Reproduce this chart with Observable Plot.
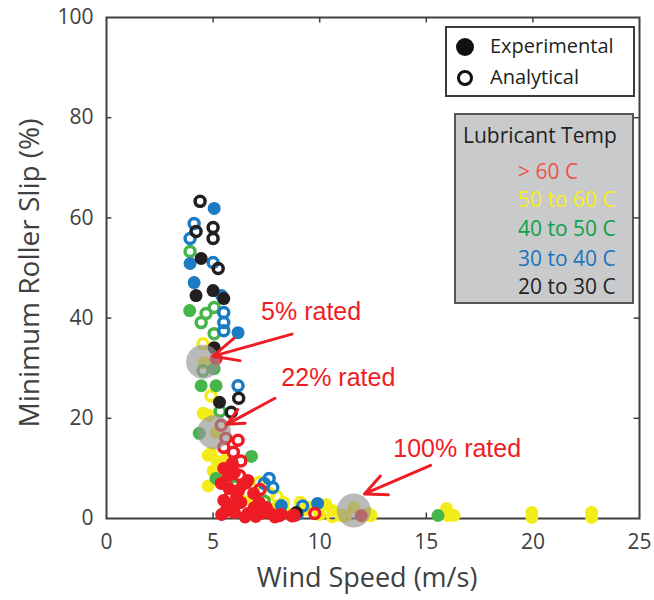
<!DOCTYPE html>
<html><head><meta charset="utf-8">
<script src="https://cdn.jsdelivr.net/npm/d3@7"></script>
<script src="https://cdn.jsdelivr.net/npm/@observablehq/plot@0.6"></script>
<style>
body{margin:0;background:#fff;}
#wrap{position:relative;width:654px;height:600px;font-family:"Open Sans",sans-serif;}
.leg1{position:absolute;left:445px;top:26px;width:190px;height:71px;border:2px solid #3a3a3a;background:#fff;box-sizing:border-box;}
.leg1 .row{position:absolute;left:0;height:30px;line-height:30px;font-size:20px;color:#231f20;}
.leg1 svg{position:absolute;left:6px;top:5px;}
.leg1 span{position:absolute;left:43px;white-space:nowrap;}
.leg2{position:absolute;left:454px;top:113px;width:180px;height:191px;border:2px solid #555;background:#c9cacb;box-sizing:border-box;font-size:20px;}
.leg2 div{position:absolute;white-space:nowrap;line-height:26px;}
</style></head>
<body><div id="wrap"></div>
<script>
const xTicks = [0, 5, 10, 15, 20, 25];
const yTicks = [0, 20, 40, 60, 80, 100];
const tempLabels = ["> 60 C", "50 to 60 C", "40 to 50 C", "30 to 40 C", "20 to 30 C"];
const tempColors = ["#ee1c24", "#f4ec1a", "#45b649", "#1b7cc4", "#231f20"];
const legendTextColors = ["#ef5246", "#f7ee1c", "#0ea04b", "#1c75bc", "#231f20"];

// [wind speed m/s, minimum roller slip %]
const expRed = [[5.5,10],[6.0,9.2],[5.38,7],[5.75,6],[6.63,7.6],[6.9,5],[6.3,3.2],[5.85,2.6],[6.0,1.2],[6.63,1],[7.25,1],[7.7,1],[6.93,2.2],[5.5,3.6],[6.2,5.6],[7.16,3.2],[5.7,8.5],[6.4,6.8],[7.0,0.4],[8.2,0.8],[6.5,0.3],[5.6,1.5],[5.14,31.9],[11.95,0.6],[7.5,2.2],[8.7,0.5],[5.9,11],[5.4,0.8],[6.1,4.2],[7.9,0.3]];
const anaRed = [[5.38,18.6],[5.6,16.0],[6.17,15.6],[5.5,14.2],[5.95,13.2],[5.94,9.0],[6.24,8.6],[6.55,7.2],[8.1,0.6],[8.8,0.6],[9.77,1.0],[6.3,11.5],[5.8,4.5],[7.2,5.8]];
const expYellow = [[4.58,31.1],[4.53,21.0],[5.14,17.2],[4.77,12.6],[4.9,13.0],[5.2,11.4],[4.77,6.5],[5.0,9.5],[5.6,11.8],[6.8,3.5],[7.3,1.8],[7.9,2.0],[8.4,1.2],[9.0,1.5],[9.5,2.2],[10.0,0.8],[10.6,1.6],[11.0,0.6],[11.6,2.2],[12.3,1.0],[12.0,0.4],[15.95,2.0],[16.0,0.6],[16.3,0.6],[19.95,1.2],[19.95,0.2],[22.75,1.2],[22.75,0.2],[10.3,2.8],[4.8,20.6]];
const anaYellow = [[4.53,34.9],[4.9,24.5],[7.16,7.2],[7.64,5.0],[8.3,3.2],[9.1,3.2],[6.6,5.2],[8.0,4.4],[9.3,1.8],[10.6,0.4],[11.2,0.5],[12.4,0.6]];
const expGreen = [[3.9,41.5],[5.05,29.9],[4.44,26.5],[5.14,26.5],[4.35,17.0],[6.8,12.4],[5.14,8.0],[15.55,0.6],[8.2,1.0]];
const anaGreen = [[3.92,53.3],[5.05,42.1],[4.67,40.9],[4.44,39.1],[5.05,36.9],[4.53,29.5],[5.33,21.4],[7.4,3.5],[6.0,6.5]];
const expBlue = [[5.05,61.9],[3.92,50.9],[4.11,47.1],[5.4,44.5],[6.17,37.1],[8.95,0.8],[9.9,3.0],[8.2,2.6]];
const anaBlue = [[4.11,58.9],[3.92,55.9],[5.0,51.1],[5.5,41.1],[5.5,39.1],[5.5,37.5],[6.17,26.5],[7.63,8.0],[7.8,6.2],[7.4,7.0],[9.2,2.5]];
const expBlack = [[4.44,51.9],[4.2,44.5],[5.0,45.5],[5.5,43.9],[5.05,34.1],[5.3,23.2],[6.2,3.2],[8.9,1.2]];
const anaBlack = [[4.39,63.3],[5.0,58.1],[4.2,57.3],[5.0,55.9],[5.24,49.9],[6.2,24.0],[5.85,21.2]];

const ratedLabels = ["5% rated", "22% rated", "100% rated"];
const ratedPoints = [[4.53,31.3],[5.05,17.2],[11.6,1.6]];
const labelPos = [[7.25,41.2],[8.2,28.1],[13.45,13.8]];
const arrowFrom = [[8.7,36.8],[7.9,24.0],[15.2,10.6]];
const arrowTo = [[5.0,32.4],[5.65,18.8],[12.1,4.9]];

const filled = (d, c) => Plot.dot(d, {x: p => p[0], y: p => p[1], r: 6.5, fill: c, stroke: "none"});
const ring = (d, c) => Plot.dot(d, {x: p => p[0], y: p => p[1], r: 5, fill: "none", stroke: c, strokeWidth: 3.5});
const axisColor = "#3f3f3f";

const chart = Plot.plot({
  width: 654, height: 600,
  marginLeft: 106, marginRight: 15, marginTop: 17, marginBottom: 82,
  x: {domain: [0, 25]},
  y: {domain: [0, 100]},
  style: {fontFamily: "'Open Sans', sans-serif", color: axisColor, background: "white", overflow: "visible"},
  marks: [
    Plot.axisX({ticks: xTicks, tickSize: 0, tickPadding: 16, label: null, fontSize: 21, fill: "#404040"}),
    Plot.axisY({ticks: yTicks, tickSize: 0, tickPadding: 13, label: null, fontSize: 21, fill: "#404040"}),
    Plot.ruleX(xTicks.slice(1, -1), {y1: 0, y2: 1.1, stroke: axisColor, strokeWidth: 1.5}),
    Plot.ruleX(xTicks.slice(1, -1), {y1: 98.9, y2: 100, stroke: axisColor, strokeWidth: 1.5}),
    Plot.ruleY(yTicks.slice(1, -1), {x1: 0, x2: 0.25, stroke: axisColor, strokeWidth: 1.5}),
    Plot.ruleY(yTicks.slice(1, -1), {x1: 24.75, x2: 25, stroke: axisColor, strokeWidth: 1.5}),
    Plot.frame({stroke: axisColor, strokeWidth: 2}),
    Plot.text(["Wind Speed (m/s)"], {frameAnchor: "bottom", dy: 68, dx: -6, fontSize: 27, fill: "#404040"}),
    Plot.text(["Minimum Roller Slip (%)"], {frameAnchor: "left", textAnchor: "middle", rotate: -90, dx: -76, dy: 5, fontSize: 28, fill: "#404040"}),
    filled(expYellow, tempColors[1]), ring(anaYellow, tempColors[1]),
    filled(expGreen, tempColors[2]), ring(anaGreen, tempColors[2]),
    filled(expBlue, tempColors[3]), ring(anaBlue, tempColors[3]),
    filled(expBlack, tempColors[4]), ring(anaBlack, tempColors[4]),
    filled(expRed, tempColors[0]), ring(anaRed, tempColors[0]),
    Plot.dot(ratedPoints, {x: p => p[0], y: p => p[1], r: 17, fill: "#959595", fillOpacity: 0.65, stroke: "none"}),
    Plot.arrow(d3.range(3), {x1: i => arrowFrom[i][0], y1: i => arrowFrom[i][1], x2: i => arrowTo[i][0], y2: i => arrowTo[i][1], stroke: "#ee1c24", strokeWidth: 3, headLength: 18, headAngle: 50}),
    Plot.text(d3.range(3), {x: i => labelPos[i][0], y: i => labelPos[i][1], text: i => ratedLabels[i], textAnchor: "start", fill: "#ee1c24", fontSize: 25, fontFamily: "'Liberation Sans', Arial, sans-serif"})
  ]
});
const wrap = document.getElementById("wrap");
wrap.appendChild(chart);

// legends
const leg1 = document.createElement("div");
leg1.className = "leg1";
leg1.innerHTML = `
<div class="row" style="top:3px;width:100%"><svg width="24" height="22"><circle cx="12" cy="11" r="9" fill="#111"/></svg><span>Experimental</span></div>
<div class="row" style="top:34px;width:100%"><svg width="24" height="22"><circle cx="12" cy="11" r="6.5" fill="none" stroke="#111" stroke-width="3"/></svg><span>Analytical</span></div>`;
wrap.appendChild(leg1);

const leg2 = document.createElement("div");
leg2.className = "leg2";
let html = `<div style="left:7px;top:7px;color:#231f20;font-size:21px">Lubricant Temp</div>`;
const tops = [43, 71, 100, 130, 158];
tempLabels.forEach((t, i) => {
  html += `<div style="left:62px;top:${tops[i]}px;color:${legendTextColors[i]};font-size:21px">${t}</div>`;
});
leg2.innerHTML = html;
wrap.appendChild(leg2);
</script>
</body></html>
